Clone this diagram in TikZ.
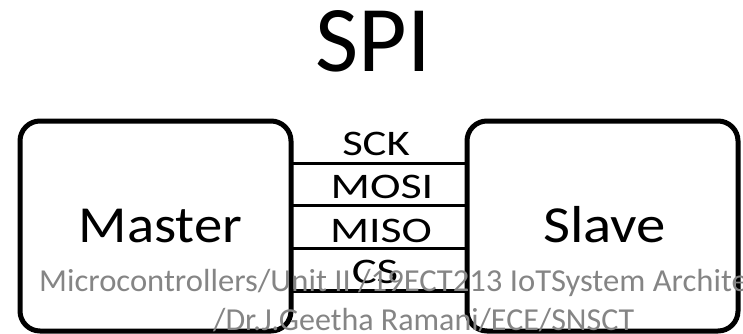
\documentclass[tikz,border=0pt]{standalone}
\usepackage{fontspec}
\setmainfont{Carlito}
\usepackage{graphicx}
\begin{document}
\begin{tikzpicture}[x=1pt,y=-1pt,
  box/.style={draw=black,line width=5pt,rounded corners=20pt},
  wire/.style={draw=black,line width=3.5pt},
  lbl/.style={inner sep=0pt,anchor=base,font=\fontsize{36}{36}\selectfont},
  big/.style={inner sep=0pt,anchor=base,font=\fontsize{52}{52}\selectfont},
  wm/.style={inner sep=0pt,anchor=base west,text=black!48,font=\fontsize{32}{32}\selectfont}]
\useasboundingbox (0,0) rectangle (743,334);
\clip (0,0) rectangle (743,334);
\node[inner sep=0pt,anchor=base,font=\fontsize{94}{94}\selectfont] (title) at (373.5,72) {SPI};
\draw[box] (20,121) rectangle (291,331);
\draw[box] (467,121) rectangle (738,331);
\node[big] (master) at (160.5,242) {\scalebox{1.09}[1]{Master}};
\node[big] (slave) at (604.5,242) {\scalebox{1.13}[1]{Slave}};
\coordinate (m1) at (291,163.5); \coordinate (s1) at (467,163.5);
\coordinate (m2) at (291,205.5); \coordinate (s2) at (467,205.5);
\coordinate (m3) at (291,248.5); \coordinate (s3) at (467,248.5);
\coordinate (m4) at (291,291);   \coordinate (s4) at (467,291);
\draw[wire] (m1) -- (s1);
\draw[wire] (m2) -- (s2);
\draw[wire] (m3) -- (s3);
\draw[wire] (m4) -- (s4);
\node[lbl] (sck) at (376,155) {\scalebox{1.24}[1]{SCK}};
\node[lbl] (mosi) at (382,198) {\scalebox{1.28}[1]{MOSI}};
\node[lbl] (miso) at (381,242) {\scalebox{1.27}[1]{MISO}};
\node[lbl] (cs) at (375,283) {\scalebox{1.3}[1]{CS}};
\node[wm] (wm1) at (39,291) {\scalebox{1.02}[1]{Microcontrollers/Unit II /19ECT213 IoTSystem Archite}};
\node[wm] (wm2) at (213,330) {/Dr.J.Geetha Ramani/ECE/SNSCT};
\end{tikzpicture}
\end{document}
